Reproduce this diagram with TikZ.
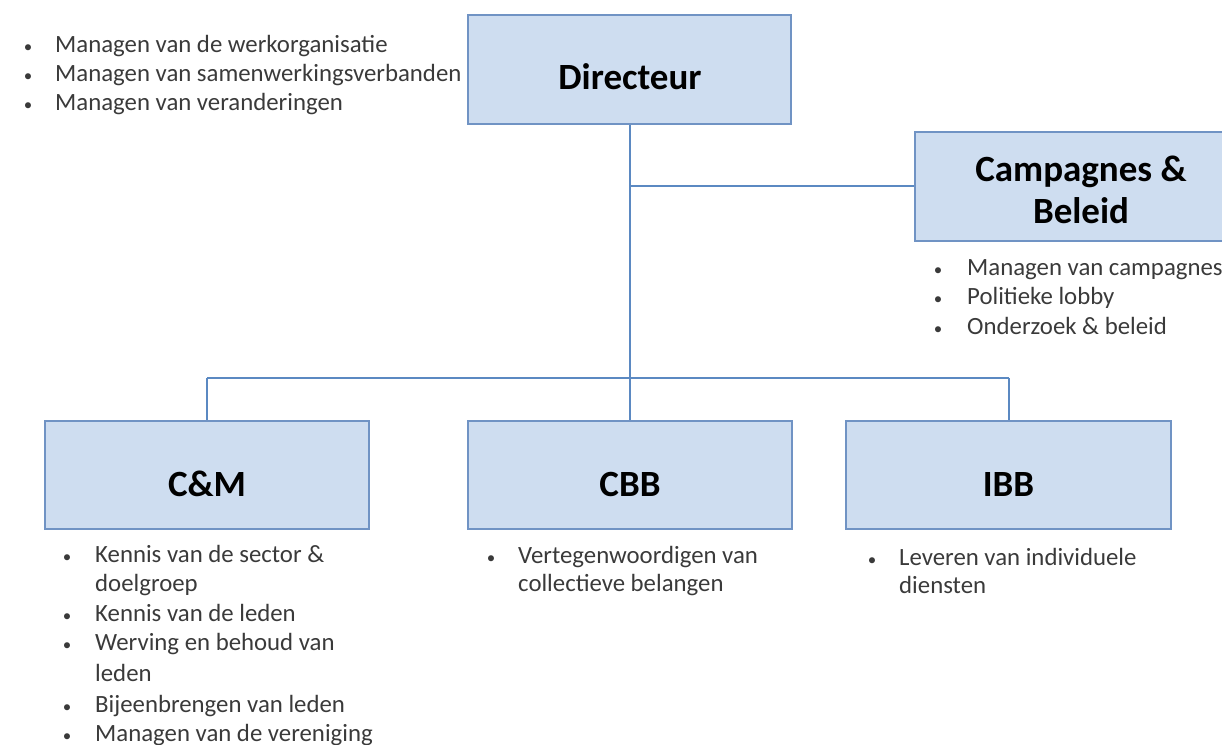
\documentclass[tikz,border=0pt]{standalone}
\usepackage{fontspec}
\setmainfont{Carlito}
\definecolor{boxfill}{RGB}{206,221,240}
\definecolor{boxline}{RGB}{112,147,196}
\definecolor{linkline}{RGB}{91,137,194}
\definecolor{bullettext}{RGB}{58,58,58}
\begin{document}
\begin{tikzpicture}[x=1pt,y=-1pt,
  unit/.style={draw=boxline,line width=2pt,fill=boxfill,inner sep=0pt},
  title/.style={anchor=base,inner sep=0pt,font=\fontsize{37}{44}\selectfont\bfseries},
  link/.style={draw=linkline,line width=2pt},
  item/.style={anchor=base west,inner sep=0pt,text=bullettext,
    font=\fontsize{24.8}{30}\selectfont},
  dot/.style={anchor=base,inner sep=0pt,text=bullettext,
    font=\fontsize{17}{30}\selectfont}]
\useasboundingbox (0,0) rectangle (1222,744);

% organisation units
\node[unit,minimum width=323pt,minimum height=109pt] (dir) at (629.5,69.5) {};
\node[title] (dirt) at (630,89) {Directeur};
\node[unit,minimum width=332pt,minimum height=109pt] (cb) at (1081,186.5) {};
\node[title] (cbt1) at (1081,181) {Campagnes \&};
\node[title] (cbt2) at (1081,223) {Beleid};
\node[unit,minimum width=324pt,minimum height=108pt] (cm) at (207,475) {};
\node[title] (cmt) at (207,496) {C\&M};
\node[unit,minimum width=324pt,minimum height=108pt] (cbb) at (630,475) {};
\node[title] (cbbt) at (630,496) {CBB};
\node[unit,minimum width=325pt,minimum height=108pt] (ibb) at (1008.5,475) {};
\node[title] (ibbt) at (1008.5,496) {IBB};

% connectors
\coordinate (hub) at (630,186);
\coordinate (busl) at (207,378);
\coordinate (busr) at (1008.5,378);
\draw[link] (dir.south -| hub) -- (cbb.north -| hub);
\draw[link] (hub) -- (cb.west |- hub);
\draw[link] (busl) -- (busr);
\draw[link] (busl) -- (cm.north -| busl);
\draw[link] (busr) -- (ibb.north -| busr);

% tasks of the director
\node[dot] (d1) at (28,52) {•};
\node[item] (t1) at (55,52) {Managen van de werkorganisatie};
\node[dot] (d2) at (28,81) {•};
\node[item] (t2) at (55,81) {Managen van samenwerkingsverbanden};
\node[dot] (d3) at (28,110) {•};
\node[item] (t3) at (55,110) {Managen van veranderingen};

% tasks of campaigns & policy
\node[dot] (d4) at (938,275) {•};
\node[item] (t4) at (967,275) {Managen van campagnes};
\node[dot] (d5) at (938,304) {•};
\node[item] (t5) at (967,304) {Politieke lobby};
\node[dot] (d6) at (938,334) {•};
\node[item] (t6) at (967,334) {Onderzoek \& beleid};

% tasks of C&M
\node[dot] (d7) at (67,562) {•};
\node[item] (t7) at (95,562) {Kennis van de sector \&};
\node[item] (t8) at (95,591) {doelgroep};
\node[dot] (d9) at (67,621) {•};
\node[item] (t9) at (95,621) {Kennis van de leden};
\node[dot] (d10) at (67,650) {•};
\node[item] (t10) at (95,650) {Werving en behoud van};
\node[item] (t11) at (95,681) {leden};
\node[dot] (d12) at (67,712) {•};
\node[item] (t12) at (95,712) {Bijeenbrengen van leden};
\node[dot] (d13) at (67,741) {•};
\node[item] (t13) at (95,741) {Managen van de vereniging};

% tasks of CBB
\node[dot] (d14) at (491,563) {•};
\node[item] (t14) at (518,563) {Vertegenwoordigen van};
\node[item] (t15) at (518,591) {collectieve belangen};

% tasks of IBB
\node[dot] (d16) at (872,565) {•};
\node[item] (t16) at (899,565) {Leveren van individuele};
\node[item] (t17) at (899,593) {diensten};
\end{tikzpicture}
\end{document}
